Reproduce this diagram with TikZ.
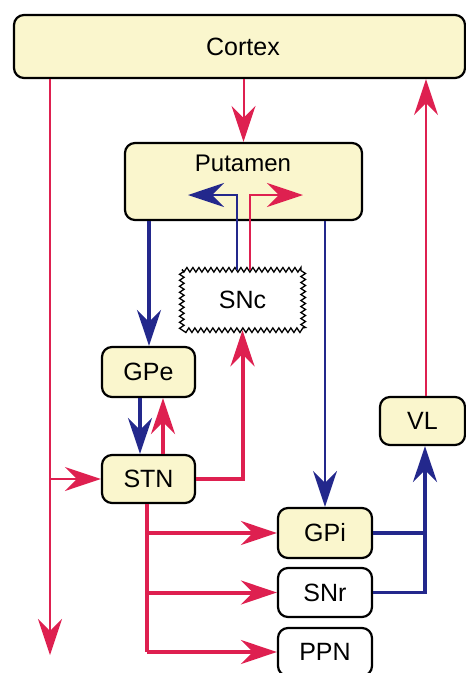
\documentclass[tikz,border=0pt]{standalone}
\usepackage{fontspec}
\setmainfont{Liberation Sans}
\usetikzlibrary{arrows.meta,decorations.pathmorphing}
\definecolor{cred}{RGB}{222,32,80}
\definecolor{cblue}{RGB}{35,40,140}
\definecolor{cfill}{RGB}{250,246,205}
\begin{document}
\begin{tikzpicture}[x=1pt,y=-1pt,
  box/.style={draw=black, line width=2.2pt, rounded corners=10pt, fill=cfill, inner sep=0pt,
    font=\fontsize{25}{29}\selectfont},
  wbox/.style={box, fill=white},
  tip/.style={-{Stealth[length=36pt 0,width=24pt 0,inset=12pt]}},
  redthin/.style={draw=cred, line width=2pt},
  redthick/.style={draw=cred, line width=4pt},
  bluethin/.style={draw=cblue, line width=2pt},
  bluethick/.style={draw=cblue, line width=3.5pt}]
\useasboundingbox (0,0) rectangle (466,673);
\begin{scope}
\clip (0,0) rectangle (466,673);
% column helpers
\coordinate (c50) at (50,0);
\coordinate (c140) at (140,0);
\coordinate (c147) at (147,0);
\coordinate (c149) at (149,0);
\coordinate (c163) at (163,0);
\coordinate (c237) at (237,0);
\coordinate (c250) at (250,0);
\coordinate (c425) at (425,0);
\coordinate (c426) at (426,0);
% nodes
\node[box, minimum width=451pt, minimum height=63pt] (cortex) at (239.5,46.5) {};
\node[font=\fontsize{25}{29}\selectfont] (cortext) at (243,47) {Cortex};
\node[box, minimum width=237pt, minimum height=77pt] (put) at (243.5,181.5) {};
\node[font=\fontsize{24}{28}\selectfont] (putt) at (243,163) {Putamen};
\node[inner sep=0pt, minimum width=121pt, minimum height=60pt] (snc) at (242.5,300) {};
\draw[line width=1.3pt, fill=white, decorate, decoration={zigzag, segment length=6pt, amplitude=2.3pt}]
  (snc.north west) rectangle (snc.south east);
\node[inner sep=0pt, font=\fontsize{25}{29}\selectfont] (snct) at (snc.center) {SNc};
\node[box, minimum width=93pt, minimum height=50pt] (gpe) at (148.5,372) {GPe};
\node[box, minimum width=93pt, minimum height=48pt] (stn) at (148.5,479) {STN};
\node[box, minimum width=85pt, minimum height=48pt] (vl) at (422.5,421) {VL};
\node[box, minimum width=94pt, minimum height=50pt] (gpi) at (325,533) {GPi};
\node[wbox, minimum width=94pt, minimum height=49pt] (snr) at (325,592.5) {SNr};
\node[wbox, minimum width=94pt, minimum height=48pt] (ppn) at (325,652) {PPN};
% free ends
\coordinate (lend) at (50,655);
\coordinate (bl) at (188,195);
\coordinate (rd) at (303,195);
% cortex connectors
\draw[redthin, tip] (cortex.south -| lend) -- (lend);
\draw[redthin, tip] (cortex.south -| put.north) -- (put.north);
\draw[redthin, tip] (vl.north -| c426) -- (cortex.south -| c426);
% putamen outputs
\draw[bluethick, tip] (put.south -| c149) -- (gpe.north -| c149);
\draw[bluethin, tip] (put.south -| gpi.north) -- (gpi.north);
% SNc to putamen
\draw[bluethin, tip] (snc.north -| c237) -- (bl -| c237) -- (bl);
\draw[redthin, tip] (snc.north -| c250) -- (rd -| c250) -- (rd);
% GPe / STN
\draw[bluethick, tip] (gpe.south -| c140) -- (stn.north -| c140);
\draw[redthick, tip] (stn.north -| c163) -- (gpe.south -| c163);
\draw[redthin, tip] (lend |- stn.west) -- (stn.west);
\draw[redthick, tip] (stn.east) -| (snc.south);
% STN branches
\draw[redthick] (stn.south -| c147) -- (ppn.west -| c147);
\draw[redthick, tip] (gpi.west -| c147) -- (gpi.west);
\draw[redthick, tip] (snr.west -| c147) -- (snr.west);
\draw[redthick, tip] (ppn.west -| c147) -- (ppn.west);
% to VL
\draw[bluethick] (gpi.east) -- (gpi.east -| c425);
\draw[bluethick, tip] (snr.east) -| (vl.south -| c425);
\end{scope}
\end{tikzpicture}
\end{document}
